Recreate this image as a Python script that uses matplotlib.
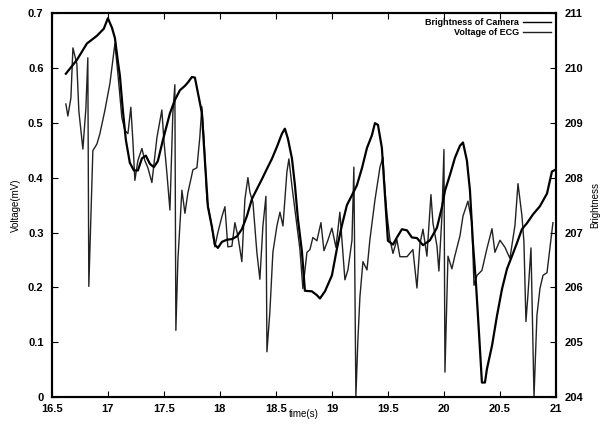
import matplotlib
matplotlib.use("Agg")
import matplotlib.pyplot as plt

# Voltage of ECG (mV)
ecg_t = [16.625, 16.643, 16.670, 16.688, 16.723, 16.741, 16.777, 16.804, 16.821, 16.830,
         16.866, 16.902, 16.929, 16.973, 17.018, 17.063, 17.089, 17.125, 17.152, 17.179,
         17.205, 17.223, 17.241, 17.268, 17.304, 17.330, 17.357, 17.393, 17.438, 17.482,
         17.500, 17.527, 17.554, 17.580, 17.598, 17.607, 17.625, 17.661, 17.688, 17.714,
         17.759, 17.795, 17.821, 17.839, 17.857, 17.884, 17.929, 17.955, 17.982, 18.018,
         18.045, 18.071, 18.107, 18.134, 18.161, 18.196, 18.223, 18.250, 18.268, 18.295,
         18.330, 18.357, 18.384, 18.411, 18.420, 18.446, 18.473, 18.509, 18.536, 18.563,
         18.598, 18.616, 18.643, 18.688, 18.714, 18.741, 18.777, 18.804, 18.830, 18.866,
         18.902, 18.929, 18.964, 19.000, 19.036, 19.071, 19.116, 19.143, 19.179, 19.196,
         19.214, 19.232, 19.250, 19.277, 19.313, 19.339, 19.384, 19.429, 19.455, 19.473,
         19.491, 19.518, 19.545, 19.580, 19.607, 19.670, 19.723, 19.759, 19.786, 19.813,
         19.848, 19.884, 19.902, 19.938, 19.955, 19.982, 20.000, 20.009, 20.036, 20.071,
         20.098, 20.143, 20.170, 20.214, 20.250, 20.268, 20.295, 20.339, 20.384, 20.429,
         20.455, 20.500, 20.545, 20.589, 20.634, 20.661, 20.696, 20.714, 20.732, 20.750,
         20.777, 20.795, 20.804, 20.830, 20.857, 20.884, 20.920, 20.946, 20.973]
ecg_v = [0.534, 0.512, 0.545, 0.636, 0.607, 0.521, 0.452, 0.527, 0.618, 0.202,
         0.449, 0.461, 0.480, 0.522, 0.571, 0.644, 0.590, 0.509, 0.486, 0.480,
         0.528, 0.468, 0.395, 0.431, 0.453, 0.431, 0.418, 0.391, 0.473, 0.523,
         0.468, 0.408, 0.341, 0.517, 0.569, 0.122, 0.250, 0.377, 0.335, 0.372,
         0.414, 0.418, 0.474, 0.529, 0.474, 0.360, 0.310, 0.274, 0.300, 0.329,
         0.347, 0.274, 0.275, 0.318, 0.293, 0.247, 0.360, 0.400, 0.373, 0.355,
         0.264, 0.215, 0.312, 0.366, 0.083, 0.155, 0.264, 0.312, 0.337, 0.312,
         0.410, 0.434, 0.385, 0.312, 0.270, 0.198, 0.264, 0.269, 0.291, 0.285,
         0.318, 0.267, 0.286, 0.308, 0.273, 0.337, 0.214, 0.232, 0.286, 0.419,
         0.002, 0.105, 0.183, 0.247, 0.232, 0.287, 0.359, 0.419, 0.437, 0.378,
         0.334, 0.287, 0.262, 0.287, 0.256, 0.256, 0.269, 0.199, 0.280, 0.306,
         0.257, 0.369, 0.317, 0.275, 0.230, 0.330, 0.451, 0.046, 0.257, 0.234,
         0.258, 0.294, 0.330, 0.357, 0.318, 0.204, 0.222, 0.231, 0.271, 0.307,
         0.264, 0.286, 0.273, 0.253, 0.313, 0.389, 0.331, 0.283, 0.138, 0.187,
         0.272, 0.091, 0.001, 0.149, 0.198, 0.222, 0.227, 0.271, 0.318]

# Brightness of Camera
cam_t = [16.625, 16.723, 16.813, 16.902, 16.964, 17.000, 17.036, 17.063, 17.089, 17.107,
         17.134, 17.161, 17.196, 17.232, 17.268, 17.304, 17.339, 17.375, 17.411, 17.446,
         17.491, 17.554, 17.598, 17.643, 17.688, 17.714, 17.750, 17.777, 17.804, 17.839,
         17.866, 17.893, 17.929, 17.955, 17.982, 18.018, 18.063, 18.107, 18.152, 18.196,
         18.241, 18.286, 18.330, 18.375, 18.420, 18.464, 18.509, 18.554, 18.580, 18.607,
         18.643, 18.670, 18.696, 18.732, 18.759, 18.821, 18.866, 18.893, 18.938, 19.000,
         19.045, 19.089, 19.134, 19.179, 19.223, 19.268, 19.313, 19.357, 19.384, 19.411,
         19.446, 19.473, 19.500, 19.545, 19.580, 19.625, 19.670, 19.714, 19.759, 19.813,
         19.875, 19.938, 19.982, 20.009, 20.054, 20.098, 20.143, 20.170, 20.205, 20.232,
         20.259, 20.286, 20.313, 20.339, 20.366, 20.384, 20.429, 20.473, 20.518, 20.563,
         20.607, 20.652, 20.696, 20.741, 20.795, 20.857, 20.920, 20.964, 21.000]
cam_b = [209.89, 210.14, 210.44, 210.58, 210.71, 210.90, 210.73, 210.54, 210.12, 209.86,
         209.22, 208.68, 208.27, 208.13, 208.13, 208.35, 208.40, 208.25, 208.19, 208.30,
         208.68, 209.17, 209.41, 209.59, 209.67, 209.73, 209.83, 209.82, 209.54, 209.18,
         208.32, 207.47, 207.10, 206.78, 206.72, 206.83, 206.87, 206.88, 206.93, 207.06,
         207.30, 207.61, 207.79, 207.97, 208.16, 208.34, 208.56, 208.80, 208.89, 208.71,
         208.35, 207.86, 207.26, 206.66, 205.94, 205.93, 205.86, 205.80, 205.93, 206.22,
         206.71, 207.13, 207.50, 207.68, 207.86, 208.17, 208.54, 208.77, 208.99, 208.96,
         208.54, 207.69, 206.85, 206.78, 206.91, 207.06, 207.04, 206.91, 206.90, 206.77,
         206.86, 207.09, 207.46, 207.76, 208.05, 208.36, 208.58, 208.64, 208.31, 207.77,
         206.80, 206.07, 205.17, 204.27, 204.27, 204.52, 204.94, 205.48, 205.97, 206.34,
         206.57, 206.81, 207.06, 207.17, 207.33, 207.48, 207.71, 208.11, 208.15]

x_ticks = [16.5, 17, 17.5, 18, 18.5, 19, 19.5, 20, 20.5, 21]
x_labels = ["16.5", "17", "17.5", "18", "18.5", "19", "19.5", "20", "20.5", "21"]
v_ticks = [0, 0.1, 0.2, 0.3, 0.4, 0.5, 0.6, 0.7]
b_ticks = [204, 205, 206, 207, 208, 209, 210, 211]

plt.rcParams['font.family'] = ['Liberation Sans', 'DejaVu Sans']
plt.rcParams['font.weight'] = 'bold'

fig = plt.figure(figsize=(6.03, 4.25), dpi=100)
ax = fig.add_axes([0.086, 0.065, 0.836, 0.905])
ax2 = ax.twinx()

l_ecg, = ax.plot(ecg_t, ecg_v, color='#222222', lw=1.0)
l_cam, = ax2.plot(cam_t, cam_b, color='black', lw=1.6)

ax.set_xlim(16.5, 21)
ax.set_ylim(0, 0.7)
ax2.set_ylim(204, 211)

ax.set_xticks(x_ticks)
ax.set_xticklabels(x_labels)
ax.set_yticks(v_ticks)
ax.set_yticklabels([f"{v:g}" for v in v_ticks])
ax2.set_yticks(b_ticks)

ax.tick_params(axis='x', direction='in', top=True, labelsize=8, length=4, pad=5)
ax.tick_params(axis='y', direction='in', labelsize=8, length=4, pad=6)
ax2.tick_params(axis='y', direction='in', labelsize=8, length=4, pad=6)

for a in (ax, ax2):
    for s in a.spines.values():
        s.set_linewidth(1.5)

ax.set_xlabel('time(s)', fontsize=7, labelpad=-4)
ax.set_ylabel('Voltage(mV)', fontsize=7, labelpad=5)
ax2.set_ylabel('Brightness', fontsize=7, rotation=90, labelpad=5)

leg = ax2.legend([l_cam, l_ecg], ['Brightness of Camera', 'Voltage of ECG'],
                 loc='upper right', frameon=False, markerfirst=False,
                 fontsize=6.5, handlelength=3, borderaxespad=0.2,
                 labelspacing=0.1, handletextpad=0.5)
for h in leg.get_lines():
    h.set_linewidth(1.0)

fig.savefig('out.png', dpi=100)
